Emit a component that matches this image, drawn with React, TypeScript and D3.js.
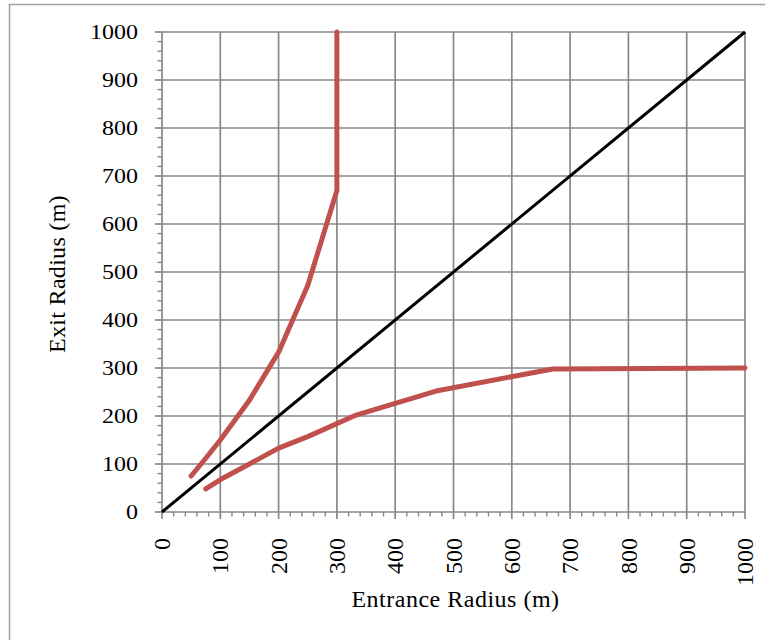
import React from 'react';
import * as d3 from 'd3';

const upperEntrance = [50, 75, 100, 150, 200, 250, 300, 300];
const upperExit = [75, 112, 150, 233, 333, 472, 670, 1000];
const lowerEntrance = [75, 105, 150, 200, 250, 333, 470, 670, 1000];
const lowerExit = [48, 71, 100, 133, 157, 202, 252, 298, 300];
const equalLine = [0, 1000];
const majorTicks = d3.range(0, 1001, 100);
const minorTicks = d3.range(0, 1001, 20).filter((v) => v % 100 !== 0);

const W = 765;
const H = 640;
const left = 162, right = 745, top = 32, bottom = 512;

const App = () => {
  const x = d3.scaleLinear().domain([0, 1000]).range([left, right]);
  const y = d3.scaleLinear().domain([0, 1000]).range([bottom, top]);
  const line = d3.line<[number, number]>().x((d) => x(d[0])).y((d) => y(d[1]));
  const upper = upperEntrance.map((v, i) => [v, upperExit[i]] as [number, number]);
  const lower = lowerEntrance.map((v, i) => [v, lowerExit[i]] as [number, number]);
  const diag = equalLine.map((v) => [v, v] as [number, number]);
  const grid = '#888888';
  const font = '"Liberation Serif", "DejaVu Serif", serif';

  return (
    <svg width={W} height={H} style={{ position: 'absolute', left: 0, top: 0, background: '#fff' }}>
      <rect x={9.5} y={4.5} width={800} height={700} fill="#fff" stroke="#a0a0a0" strokeWidth={1.5} />
      {majorTicks.map((t) => (
        <g key={'g' + t}>
          <line x1={x(t)} x2={x(t)} y1={top} y2={bottom} stroke={grid} strokeWidth={1.7} />
          <line x1={left} x2={right} y1={y(t)} y2={y(t)} stroke={grid} strokeWidth={1.7} />
          <line x1={left - 7} x2={left} y1={y(t)} y2={y(t)} stroke={grid} strokeWidth={1.7} />
          <line x1={x(t)} x2={x(t)} y1={bottom} y2={bottom + 7} stroke={grid} strokeWidth={1.7} />
        </g>
      ))}
      {minorTicks.map((t) => (
        <g key={'m' + t}>
          <line x1={left - 4.5} x2={left} y1={y(t)} y2={y(t)} stroke={grid} strokeWidth={1.4} />
          <line x1={x(t)} x2={x(t)} y1={bottom} y2={bottom + 4.5} stroke={grid} strokeWidth={1.4} />
        </g>
      ))}
      <path d={line(diag) || ''} fill="none" stroke="#000" strokeWidth={3} />
      <path d={line(upper) || ''} fill="none" stroke="#c0504d" strokeWidth={5} strokeLinecap="round" strokeLinejoin="round" />
      <path d={line(lower) || ''} fill="none" stroke="#c0504d" strokeWidth={5} strokeLinecap="round" strokeLinejoin="round" />
      <g fontFamily={font} fontSize={24} fill="#000">
        {majorTicks.map((t) => (
          <text key={'yl' + t} transform={`translate(138,${y(t)}) scale(1,0.88)`} dy="0.34em" textAnchor="end">{t}</text>
        ))}
        {majorTicks.map((t) => (
          <text key={'xl' + t} transform={`translate(${x(t)},538) rotate(-90)`} dy="0.34em" textAnchor="end">{t}</text>
        ))}
        <text x={(left + right) / 2 + 2} y={607} textAnchor="middle" letterSpacing={0.5}>Entrance Radius (m)</text>
        <text transform="translate(65,274) rotate(-90)" textAnchor="middle" letterSpacing={0.3}>Exit Radius (m)</text>
      </g>
    </svg>
  );
};

export default App;
